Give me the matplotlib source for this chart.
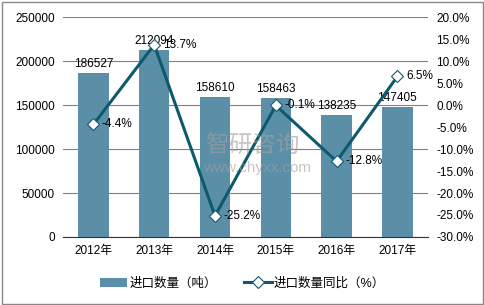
import numpy as np
import matplotlib
matplotlib.use("Agg")
from matplotlib import pyplot as plt
from matplotlib.patches import Rectangle

years = ['2012年', '2013年', '2014年', '2015年', '2016年', '2017年']
qty = [186527, 212094, 158610, 158463, 138235, 147405]
yoy = [-4.4, 13.7, -25.2, -0.1, -12.8, 6.5]
yoy_labels = ['-4.4%', '13.7%', '-25.2%', '-0.1%', '-12.8%', '6.5%']

plt.rcParams['font.family'] = ['Liberation Sans', 'Noto Sans CJK SC', 'DejaVu Sans']
plt.rcParams['font.size'] = 8.5

bar_c = '#5b8fa8'
line_c = '#0d5a6c'

fig = plt.figure(figsize=(4.85, 3.05), dpi=100)
ax = fig.add_axes([0.130, 0.223, 0.752, 0.721])
x = np.arange(len(years))

ax.bar(x, qty, width=0.5, color=bar_c, zorder=2, label='进口数量（吨）')
ax.set_ylim(0, 250000)
ax.set_yticks(np.arange(0, 250001, 50000))
ax.set_xlim(-0.5, 5.5)
ax.set_xticks(x)
ax.set_xticklabels(years)
ax.grid(axis='y', color='#808080', lw=0.8, zorder=0)
for s in ['top', 'right', 'left']:
    ax.spines[s].set_visible(False)
ax.spines['bottom'].set_color('#333333')
ax.tick_params(length=0, pad=6)
for xi, v in zip(x, qty):
    ax.text(xi, v + 3500, str(v), ha='center', va='bottom', fontsize=8.5)

ax2 = ax.twinx()
ax2.plot(x, yoy, color=line_c, lw=2.2, marker='D', ms=6.5, mfc='white',
         mec=line_c, mew=0.8, zorder=3, label='进口数量同比（%）')
ax2.set_ylim(-30, 20)
ax2.set_yticks(np.arange(-30, 20.1, 5))
ax2.set_yticklabels([f'{t:.1f}%' for t in np.arange(-30, 20.1, 5)])
for s in ['top', 'right', 'left', 'bottom']:
    ax2.spines[s].set_visible(False)
ax2.tick_params(length=0, pad=6)
for xi, v, lab in zip(x, yoy, yoy_labels):
    ax2.text(xi + 0.14, v, lab, ha='left', va='center', fontsize=8.5)

# watermark
fig.text(0.52, 0.52, '智研咨询', fontsize=17, color='#a0a0a0', alpha=0.6,
         ha='center', va='center')
fig.text(0.53, 0.45, 'www.chyxx.com', fontsize=11, color='#a0a0a0', alpha=0.6,
         ha='center', va='center')

h1, l1 = ax.get_legend_handles_labels()
h2, l2 = ax2.get_legend_handles_labels()
fig.legend(h1 + h2, l1 + l2, loc='center', bbox_to_anchor=(0.5, 0.07), ncol=2,
           frameon=False, handlelength=2.2, handletextpad=0.15,
           columnspacing=2.2, fontsize=9)

fig.patches.append(Rectangle((0.004, 0.004), 0.992, 0.99, transform=fig.transFigure,
                             fill=False, ec='#888888', lw=1))
fig.savefig('out.png', dpi=100)
